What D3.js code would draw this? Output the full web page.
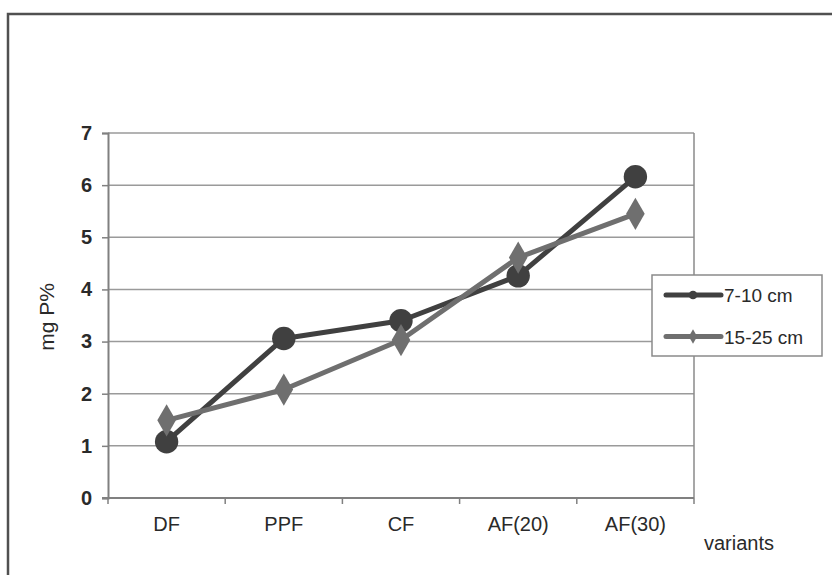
<!DOCTYPE html>
<html>
<head>
<meta charset="utf-8">
<title>mg P% by variant</title>
<script src="https://d3js.org/d3.v7.min.js"></script>
<style>
  body { margin: 0; background: #fff; }
  svg text { font-family: "Liberation Sans", Arial, sans-serif; fill: #2a2a2a; }
</style>
</head>
<body>
<div id="chart"></div>
<script>
// data
var categories = ["DF", "PPF", "CF", "AF(20)", "AF(30)"];
var seriesNames = ["7-10 cm", "15-25 cm"];
var shallow = [1.08, 3.06, 3.40, 4.26, 6.16];
var deep = [1.49, 2.08, 3.03, 4.61, 5.45];
var yTicks = [0, 1, 2, 3, 4, 5, 6, 7];

var width = 832, height = 575;
var margin = {left: 108, right: 138, top: 133, bottom: 77};

var svg = d3.select("#chart").append("svg")
  .attr("width", width)
  .attr("height", height);

// outer frame (runs off the right and bottom edge)
svg.append("rect")
  .attr("x", 8).attr("y", 14)
  .attr("width", width + 20).attr("height", height + 20)
  .attr("fill", "none")
  .attr("stroke", "#505050")
  .attr("stroke-width", 2.5);

var x = d3.scaleBand()
  .domain(categories)
  .range([margin.left, width - margin.right]);

var y = d3.scaleLinear()
  .domain([0, 7])
  .range([height - margin.bottom, margin.top]);

// gridlines
svg.append("g")
  .selectAll("line")
  .data(yTicks.slice(1))
  .enter().append("line")
  .attr("x1", margin.left).attr("x2", width - margin.right)
  .attr("y1", function(d) { return y(d); })
  .attr("y2", function(d) { return y(d); })
  .attr("stroke", "#9a9a9a")
  .attr("stroke-width", 1.5);

// right border of plot area
svg.append("line")
  .attr("x1", width - margin.right).attr("x2", width - margin.right)
  .attr("y1", margin.top).attr("y2", height - margin.bottom)
  .attr("stroke", "#8a8a8a")
  .attr("stroke-width", 1.5);

// y axis
var yAxis = svg.append("g")
  .attr("transform", "translate(" + margin.left + ",0)")
  .call(d3.axisLeft(y).tickValues(yTicks).tickSize(6).tickPadding(10).tickFormat(d3.format("d")));
yAxis.select(".domain").attr("stroke", "#808080").attr("stroke-width", 2);
yAxis.selectAll(".tick line").attr("stroke", "#808080").attr("stroke-width", 1.5);
yAxis.selectAll("text")
  .style("font-size", "20px")
  .style("font-weight", "bold")
  .attr("fill", "#333");

// x axis: ticks sit on category boundaries
var xAxis = svg.append("g")
  .attr("transform", "translate(0," + (height - margin.bottom) + ")");
xAxis.append("line")
  .attr("x1", margin.left - 6).attr("x2", width - margin.right)
  .attr("stroke", "#808080").attr("stroke-width", 2);
var bounds = categories.map(function(c) { return x(c); }).concat([x.range()[1]]);
xAxis.selectAll("line.tk")
  .data(bounds)
  .enter().append("line")
  .attr("class", "tk")
  .attr("x1", function(d) { return d; }).attr("x2", function(d) { return d; })
  .attr("y1", 0).attr("y2", 6)
  .attr("stroke", "#808080").attr("stroke-width", 1.5);
xAxis.selectAll("text")
  .data(categories)
  .enter().append("text")
  .attr("x", function(d) { return x(d) + x.bandwidth() / 2; })
  .attr("y", 33)
  .attr("text-anchor", "middle")
  .style("font-size", "20px")
  .text(function(d) { return d; });

// axis titles
svg.append("text")
  .attr("x", 739).attr("y", 550)
  .attr("text-anchor", "middle")
  .style("font-size", "20px")
  .text("variants");

svg.append("text")
  .attr("transform", "translate(54,317) rotate(-90)")
  .attr("text-anchor", "middle")
  .style("font-size", "21px")
  .text("mg P%");

// series
var line = d3.line()
  .x(function(d, i) { return x(categories[i]) + x.bandwidth() / 2; })
  .y(function(d) { return y(d); });

var series = [
  {name: seriesNames[0], values: shallow, color: "#404040", shape: d3.symbolCircle},
  {name: seriesNames[1], values: deep, color: "#6f6f6f", shape: d3.symbolDiamond}
];

series.forEach(function(s) {
  svg.append("path")
    .datum(s.values)
    .attr("d", line)
    .attr("fill", "none")
    .attr("stroke", s.color)
    .attr("stroke-width", 5)
    .attr("stroke-linejoin", "round");
});

series.forEach(function(s) {
  var size = s.shape === d3.symbolCircle ? 430 : 300;
  svg.append("g")
    .selectAll("path")
    .data(s.values)
    .enter().append("path")
    .attr("transform", function(d, i) {
      return "translate(" + (x(categories[i]) + x.bandwidth() / 2) + "," + y(d) + ")";
    })
    .attr("d", d3.symbol().type(s.shape).size(size))
    .attr("fill", s.color);
});

// legend
var legend = svg.append("g").attr("transform", "translate(652,275)");
legend.append("rect")
  .attr("width", 170).attr("height", 81)
  .attr("fill", "#fff")
  .attr("stroke", "#8a8a8a")
  .attr("stroke-width", 1.5);

var item = legend.selectAll("g.item")
  .data(series)
  .enter().append("g")
  .attr("class", "item")
  .attr("transform", function(d, i) { return "translate(0," + (20 + i * 41.5) + ")"; });

item.append("line")
  .attr("x1", 14).attr("x2", 69)
  .attr("stroke", function(d) { return d.color; })
  .attr("stroke-width", 5)
  .attr("stroke-linecap", "round");
item.append("path")
  .attr("transform", "translate(41,0)")
  .attr("d", function(d) { return d3.symbol().type(d.shape).size(60)(); })
  .attr("fill", function(d) { return d.color; });
item.append("text")
  .attr("x", 72).attr("y", 7)
  .style("font-size", "19px")
  .text(function(d) { return d.name; });
</script>
</body>
</html>
